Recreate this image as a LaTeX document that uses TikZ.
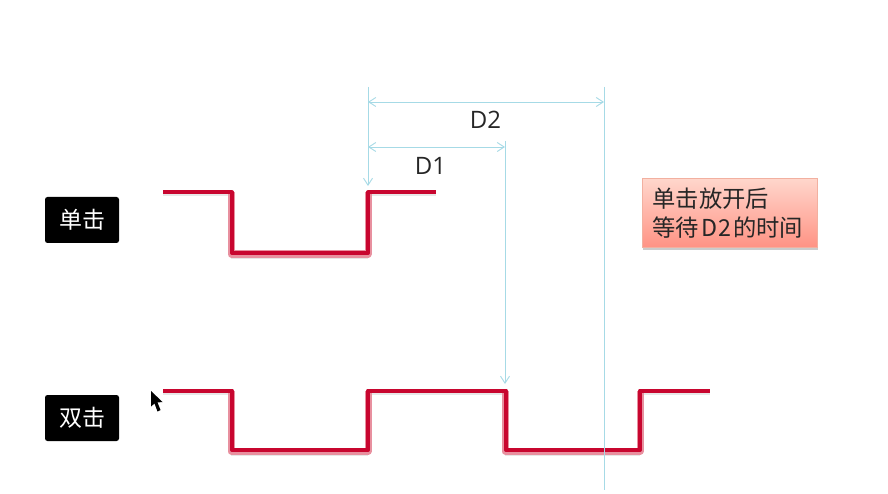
\documentclass[tikz,border=0pt]{standalone}
\usepackage{fontspec}
\setmainfont{Open Sans}
\newfontfamily\cjk{Noto Sans CJK SC}
\usetikzlibrary{arrows.meta,shadows,calc}
\definecolor{dimc}{HTML}{A6DAE6}
\definecolor{wavec}{HTML}{C8062F}
\definecolor{halo}{HTML}{E8909F}
\definecolor{boxtop}{HTML}{FFD6CC}
\definecolor{boxbot}{HTML}{FF9384}
\definecolor{boxline}{HTML}{F2B0A0}
\tikzset{
  dimline/.style={draw=dimc,line width=0.9pt},
  dimarrow/.style={dimline,{Straight Barb[length=7pt,width=9pt,line width=0.9pt]}-{Straight Barb[length=7pt,width=9pt,line width=0.9pt]}},
  endarrow/.style={dimline,-{Straight Barb[length=7pt,width=9pt,line width=0.9pt]}},
  waveshadow/.style={draw=black!30,line width=4pt,line join=round,opacity=.3},
  wavehalo/.style={draw=halo,line width=7pt,line join=round},
  waveline/.style={draw=wavec,line width=4pt,line join=round},
  tag/.style={fill=black,text=white,rounded corners=2.5pt,minimum width=74pt,minimum height=46pt,inner sep=0pt,font=\cjk\fontsize{23}{27}\selectfont},
  note/.style={draw=boxline,line width=0.6pt,top color=boxtop,bottom color=boxbot,minimum width=175pt,minimum height=69pt,inner sep=0pt,
    text width=154pt,align=left,text=black!85,font=\cjk\fontsize{23.3}{29}\selectfont,drop shadow={shadow xshift=0.5pt,shadow yshift=-2.5pt,fill=black!45,opacity=.45}},
  dimlabel/.style={inner sep=0pt,text=black!85,font=\fontsize{24}{28}\selectfont}
}
\begin{document}
\begin{tikzpicture}[x=1pt,y=-1pt]
\useasboundingbox[fill=white] (0,0) rectangle (888,494);
% dimension anchors
\coordinate (Atop) at (368,87);
\coordinate (Atip) at (368,186);
\coordinate (Btop) at (505,141);
\coordinate (Btip) at (505,384);
\coordinate (Ctop) at (604,87);
\coordinate (Cbot) at (604,490);
\coordinate (D2l) at (368,102);
\coordinate (D2r) at (604,102);
\coordinate (D1l) at (368,147);
\coordinate (D1r) at (505,147);
% single-click wave
\coordinate (s0) at (163,192.5);\coordinate (s1) at (231,192.5);\coordinate (s2) at (231,254);
\coordinate (s3) at (368,254);\coordinate (s4) at (368,192.5);\coordinate (s5) at (436,192.5);
% double-click wave
\coordinate (d0) at (163,390.5);\coordinate (d1) at (231,390.5);\coordinate (d2) at (231,451);
\coordinate (d3) at (368,451);\coordinate (d4) at (368,390.5);\coordinate (d5) at (505,390.5);
\coordinate (d6) at (505,451);\coordinate (d7) at (640,451);\coordinate (d8) at (640,390.5);\coordinate (d9) at (710,390.5);
% waves
\draw[waveshadow] ($(s0)+(0,2)$) -- ($(s1)+(0,2)$);
\draw[waveshadow] ($(s4)+(2,2)$) -- ($(s5)+(0,2)$);
\draw[waveshadow] ($(s2)+(0,3)$) -- ($(s3)+(0,3)$);
\draw[waveshadow] ($(d0)+(0,2)$) -- ($(d1)+(0,2)$);
\draw[waveshadow] ($(d2)+(0,3)$) -- ($(d3)+(0,3)$);
\draw[waveshadow] ($(d4)+(2,2)$) -- ($(d5)+(0,2)$);
\draw[waveshadow] ($(d6)+(0,3)$) -- ($(d7)+(0,3)$);
\draw[waveshadow] ($(d8)+(2,2)$) -- ($(d9)+(0,2)$);
\draw[wavehalo] (s1) -- (s2) -- (s3) -- (s4);
\draw[wavehalo] (d1) -- (d2) -- (d3) -- (d4);
\draw[wavehalo] (d5) -- (d6) -- (d7) -- (d8);
\draw[waveline] (s0) -- ($(s1)+(1,0)$) -- ($(s2)+(1,-1)$) -- ($(s3)+(0,-1)$) -- ($(s4)+(0,0)$) -- (s5);
\draw[waveline] (d0) -- ($(d1)+(1,0)$) -- ($(d2)+(1,-1)$) -- ($(d3)+(0,-1)$) -- (d4) -- ($(d5)+(1,0)$) -- ($(d6)+(1,-1)$) -- ($(d7)+(0,-1)$) -- (d8) -- (d9);
% dimension lines
\draw[endarrow] (Atop) -- (Atip);
\draw[endarrow] (Btop) -- (Btip);
\draw[dimline] (Ctop) -- (Cbot);
\draw[dimarrow] (D2l) -- (D2r);
\draw[dimarrow] (D1l) -- (D1r);
\node[dimlabel] (d2label) at (485.5,119.5) {D2};
\node[dimlabel] (d1label) at (430.5,166) {D1};
% tags
\node[tag] (single) at (82,220) {单击};
\node[tag] (double) at (82,418) {双击};
% note
\node[note] (notebox) at (729.5,213) {\raisebox{1pt}{单击放开后}\\\raisebox{1pt}{等待\kern2pt D\kern1pt 2\kern2pt 的时间}};
% cursor
\fill[black] (151,391) -- (151,406.5) -- (154.5,403.5) -- (157.5,411.5) -- (160.5,410) -- (157.5,402.5) -- (162.5,402) -- cycle;
\end{tikzpicture}
\end{document}
